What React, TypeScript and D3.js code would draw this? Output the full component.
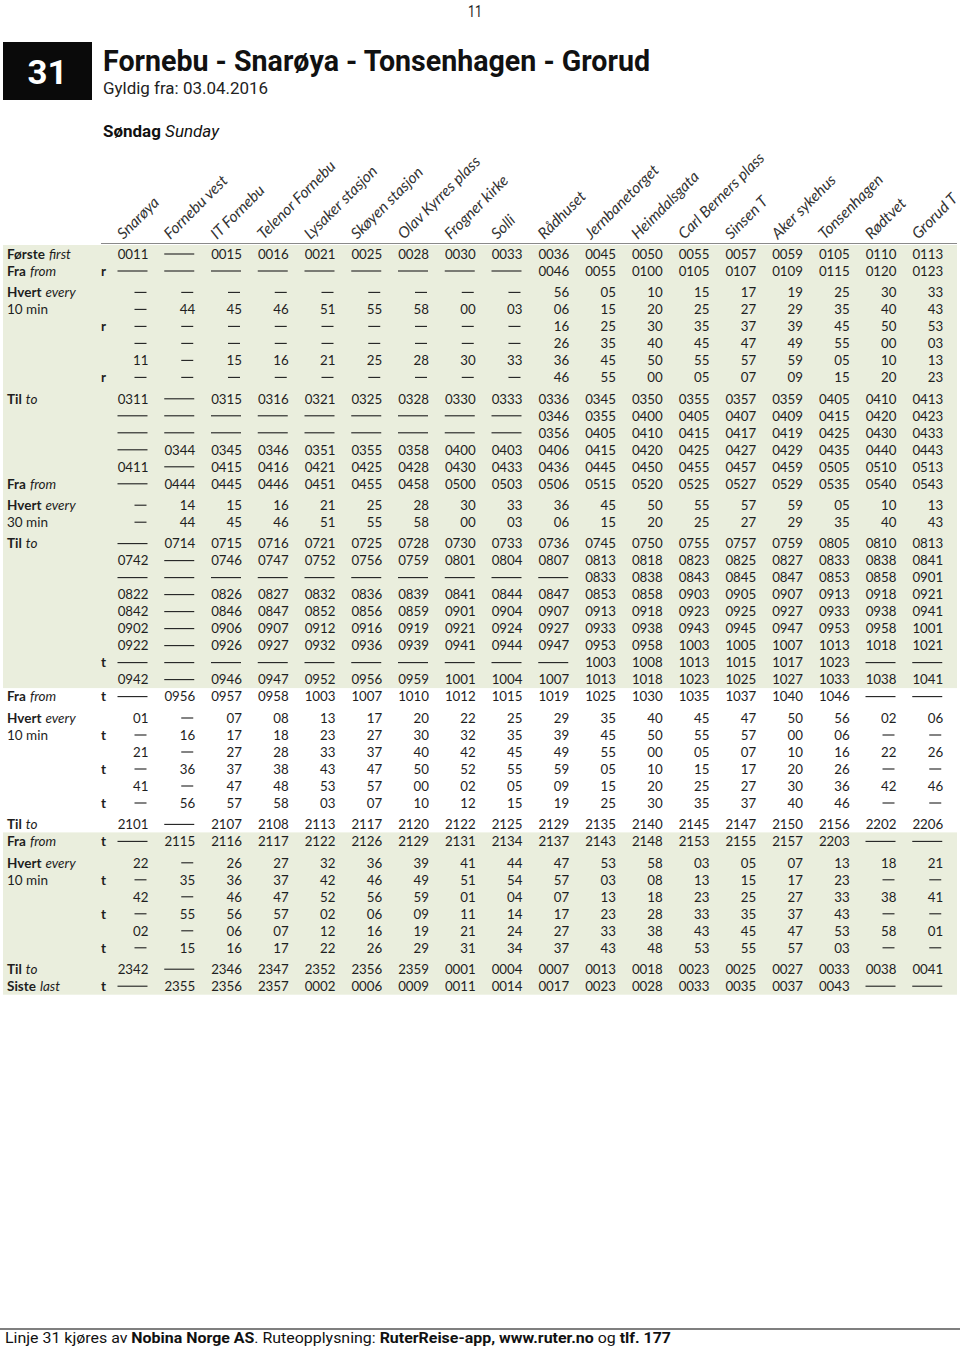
import React from "react";
import * as d3 from "d3";

const stops = [
  "Snarøya", "Fornebu vest", "IT Fornebu", "Telenor Fornebu", "Lysaker stasjon",
  "Skøyen stasjon", "Olav Kyrres plass", "Frogner kirke", "Solli", "Rådhuset",
  "Jernbanetorget", "Heimdalsgata", "Carl Berners plass", "Sinsen T", "Aker sykehus",
  "Tonsenhagen", "Rødtvet", "Grorud T",
];

type Row = { bold?: string; ital?: string; plain?: string; mark?: string; cells: string };

const firstRows: Row[] = [
  { bold: "Første", ital: "first", cells: "0011 —— 0015 0016 0021 0025 0028 0030 0033 0036 0045 0050 0055 0057 0059 0105 0110 0113" },
  { bold: "Fra", ital: "from", mark: "r", cells: "—— —— —— —— —— —— —— —— —— 0046 0055 0100 0105 0107 0109 0115 0120 0123" },
];

const every10aRows: Row[] = [
  { bold: "Hvert", ital: "every", cells: "— — — — — — — — — 56 05 10 15 17 19 25 30 33" },
  { plain: "10 min", cells: "— 44 45 46 51 55 58 00 03 06 15 20 25 27 29 35 40 43" },
  { mark: "r", cells: "— — — — — — — — — 16 25 30 35 37 39 45 50 53" },
  { cells: "— — — — — — — — — 26 35 40 45 47 49 55 00 03" },
  { cells: "11 — 15 16 21 25 28 30 33 36 45 50 55 57 59 05 10 13" },
  { mark: "r", cells: "— — — — — — — — — 46 55 00 05 07 09 15 20 23" },
];

const til1Rows: Row[] = [
  { bold: "Til", ital: "to", cells: "0311 —— 0315 0316 0321 0325 0328 0330 0333 0336 0345 0350 0355 0357 0359 0405 0410 0413" },
  { cells: "—— —— —— —— —— —— —— —— —— 0346 0355 0400 0405 0407 0409 0415 0420 0423" },
  { cells: "—— —— —— —— —— —— —— —— —— 0356 0405 0410 0415 0417 0419 0425 0430 0433" },
  { cells: "—— 0344 0345 0346 0351 0355 0358 0400 0403 0406 0415 0420 0425 0427 0429 0435 0440 0443" },
  { cells: "0411 —— 0415 0416 0421 0425 0428 0430 0433 0436 0445 0450 0455 0457 0459 0505 0510 0513" },
  { bold: "Fra", ital: "from", cells: "—— 0444 0445 0446 0451 0455 0458 0500 0503 0506 0515 0520 0525 0527 0529 0535 0540 0543" },
];

const every30Rows: Row[] = [
  { bold: "Hvert", ital: "every", cells: "— 14 15 16 21 25 28 30 33 36 45 50 55 57 59 05 10 13" },
  { plain: "30 min", cells: "— 44 45 46 51 55 58 00 03 06 15 20 25 27 29 35 40 43" },
];

const til2Rows: Row[] = [
  { bold: "Til", ital: "to", cells: "—— 0714 0715 0716 0721 0725 0728 0730 0733 0736 0745 0750 0755 0757 0759 0805 0810 0813" },
  { cells: "0742 —— 0746 0747 0752 0756 0759 0801 0804 0807 0813 0818 0823 0825 0827 0833 0838 0841" },
  { cells: "—— —— —— —— —— —— —— —— —— —— 0833 0838 0843 0845 0847 0853 0858 0901" },
  { cells: "0822 —— 0826 0827 0832 0836 0839 0841 0844 0847 0853 0858 0903 0905 0907 0913 0918 0921" },
  { cells: "0842 —— 0846 0847 0852 0856 0859 0901 0904 0907 0913 0918 0923 0925 0927 0933 0938 0941" },
  { cells: "0902 —— 0906 0907 0912 0916 0919 0921 0924 0927 0933 0938 0943 0945 0947 0953 0958 1001" },
  { cells: "0922 —— 0926 0927 0932 0936 0939 0941 0944 0947 0953 0958 1003 1005 1007 1013 1018 1021" },
  { mark: "t", cells: "—— —— —— —— —— —— —— —— —— —— 1003 1008 1013 1015 1017 1023 —— ——" },
  { cells: "0942 —— 0946 0947 0952 0956 0959 1001 1004 1007 1013 1018 1023 1025 1027 1033 1038 1041" },
  { bold: "Fra", ital: "from", mark: "t", cells: "—— 0956 0957 0958 1003 1007 1010 1012 1015 1019 1025 1030 1035 1037 1040 1046 —— ——" },
];

const every10bRows: Row[] = [
  { bold: "Hvert", ital: "every", cells: "01 — 07 08 13 17 20 22 25 29 35 40 45 47 50 56 02 06" },
  { plain: "10 min", mark: "t", cells: "— 16 17 18 23 27 30 32 35 39 45 50 55 57 00 06 — —" },
  { cells: "21 — 27 28 33 37 40 42 45 49 55 00 05 07 10 16 22 26" },
  { mark: "t", cells: "— 36 37 38 43 47 50 52 55 59 05 10 15 17 20 26 — —" },
  { cells: "41 — 47 48 53 57 00 02 05 09 15 20 25 27 30 36 42 46" },
  { mark: "t", cells: "— 56 57 58 03 07 10 12 15 19 25 30 35 37 40 46 — —" },
];

const til3Rows: Row[] = [
  { bold: "Til", ital: "to", cells: "2101 —— 2107 2108 2113 2117 2120 2122 2125 2129 2135 2140 2145 2147 2150 2156 2202 2206" },
  { bold: "Fra", ital: "from", mark: "t", cells: "—— 2115 2116 2117 2122 2126 2129 2131 2134 2137 2143 2148 2153 2155 2157 2203 —— ——" },
];

const every10cRows: Row[] = [
  { bold: "Hvert", ital: "every", cells: "22 — 26 27 32 36 39 41 44 47 53 58 03 05 07 13 18 21" },
  { plain: "10 min", mark: "t", cells: "— 35 36 37 42 46 49 51 54 57 03 08 13 15 17 23 — —" },
  { cells: "42 — 46 47 52 56 59 01 04 07 13 18 23 25 27 33 38 41" },
  { mark: "t", cells: "— 55 56 57 02 06 09 11 14 17 23 28 33 35 37 43 — —" },
  { cells: "02 — 06 07 12 16 19 21 24 27 33 38 43 45 47 53 58 01" },
  { mark: "t", cells: "— 15 16 17 22 26 29 31 34 37 43 48 53 55 57 03 — —" },
];

const lastRows: Row[] = [
  { bold: "Til", ital: "to", cells: "2342 —— 2346 2347 2352 2356 2359 0001 0004 0007 0013 0018 0023 0025 0027 0033 0038 0041" },
  { bold: "Siste", ital: "last", mark: "t", cells: "—— 2355 2356 2357 0002 0006 0009 0011 0014 0017 0023 0028 0033 0035 0037 0043 —— ——" },
];

const groups: Row[][] = [
  firstRows, every10aRows, til1Rows, every30Rows, til2Rows,
  every10bRows, til3Rows, every10cRows, lastRows,
];

const shadedRowRanges: [number, number][] = [[0, 24], [33, 41]];

const FONT = "Lato, 'Open Sans', sans-serif";
const COND = "Roboto, 'Liberation Sans', sans-serif";
const INK = "#1e1e1e";

export default function App() {
  const W = 960, H = 1351;
  const x = d3.scaleBand<string>().domain(stops).range([101.75, 943.25]).paddingInner(0).paddingOuter(0);
  const rightEdge = (i: number) => (x(stops[i]) as number) + x.bandwidth();

  const flat: { row: Row; g: number; i: number }[] = [];
  groups.forEach((rows, g) => rows.forEach((row) => flat.push({ row, g, i: flat.length })));
  const rowStep = 17, groupGap = 4.4, y0 = 254;
  const yScale = d3.scaleLinear().domain([0, 1]).range([y0, y0 + rowStep]);
  const yOf = (i: number, g: number) => yScale(i) + g * groupGap;

  const shade = shadedRowRanges.map(([a, b]) => {
    const fa = flat[a], fb = flat[b];
    return { y1: yOf(fa.i, fa.g) - 9, y2: yOf(fb.i, fb.g) + 8.5 };
  });

  return (
    <svg width={W} height={H} viewBox={`0 0 ${W} ${H}`}
      style={{ position: "absolute", left: 0, top: 0, background: "#fff" }}>
      <text x={475} y={17} textAnchor="middle" fontFamily={COND} fontSize={17} fill="#222" textLength={14} lengthAdjust="spacingAndGlyphs">11</text>

      <rect x={3} y={42} width={89} height={58} fill="#0a0a0a" />
      <text x={47.5} y={84} textAnchor="middle" fontFamily={COND} fontWeight={700} fontSize={34} fill="#fff" textLength={40} lengthAdjust="spacingAndGlyphs">31</text>

      <text x={103} y={71} fontFamily={COND} fontWeight={700} fontSize={29} fill="#111" textLength={547} lengthAdjust="spacingAndGlyphs">Fornebu - Snarøya - Tonsenhagen - Grorud</text>
      <text x={103} y={94} fontFamily={COND} fontSize={17} fill="#222" textLength={165} lengthAdjust="spacingAndGlyphs">Gyldig fra: 03.04.2016</text>

      <text x={103} y={137} fontFamily={COND} fontSize={16} fill="#111" textLength={116} lengthAdjust="spacingAndGlyphs">
        <tspan fontWeight={700}>Søndag</tspan>
        <tspan fontStyle="italic" dx={4}>Sunday</tspan>
      </text>

      {shade.map((s, k) => (
        <rect key={k} x={3} y={s.y1} width={954} height={s.y2 - s.y1} fill="#eaeedd" />
      ))}

      <line x1={101} x2={957} y1={243.5} y2={243.5} stroke="#8a8a8a" strokeWidth={1} />

      {stops.map((s, i) => {
        const cx = rightEdge(i) - 15;
        return (
          <text key={s} transform={`translate(${cx - 10},${240}) rotate(-45)`}
            fontFamily={FONT} fontStyle="italic" fontSize={15.5} fill="#333">{s}</text>
        );
      })}

      {flat.map(({ row, g, i }) => {
        const yc = yOf(i, g);
        const base = yc + 4.7;
        const cells = row.cells.split(" ");
        return (
          <g key={i}>
            {(row.bold || row.plain) && (
              <text x={7} y={base} fontFamily={FONT} fontSize={13.5} fill={INK}>
                {row.bold && <tspan fontWeight={700}>{row.bold}</tspan>}
                {row.ital && <tspan fontStyle="italic" dx={4}>{row.ital}</tspan>}
                {row.plain && <tspan>{row.plain}</tspan>}
              </text>
            )}
            {row.mark && (
              <text x={101} y={base} fontFamily={FONT} fontWeight={700} fontSize={13.5} fill={INK}>{row.mark}</text>
            )}
            {cells.map((c, j) => {
              const r = rightEdge(j);
              if (c === "——") {
                return <line key={j} x1={r - 31} x2={r - 1} y1={yc} y2={yc} stroke={INK} strokeWidth={1.1} />;
              }
              if (c === "—") {
                return <line key={j} x1={r - 14} x2={r - 2} y1={yc} y2={yc} stroke={INK} strokeWidth={1.1} />;
              }
              return (
                <text key={j} x={r} y={base} textAnchor="end" fontFamily={FONT} fontSize={13.3} fill={INK}>{c}</text>
              );
            })}
          </g>
        );
      })}

      <line x1={0} x2={960} y1={1329} y2={1329} stroke="#555" strokeWidth={1.5} />
      <text x={5} y={1343} fontFamily={COND} fontSize={14.5} fill="#111" textLength={666} lengthAdjust="spacingAndGlyphs">
        <tspan>Linje 31 kjøres av </tspan>
        <tspan fontWeight={700}>Nobina Norge AS</tspan>
        <tspan>. Ruteopplysning: </tspan>
        <tspan fontWeight={700}>RuterReise-app, www.ruter.no</tspan>
        <tspan> og </tspan>
        <tspan fontWeight={700}>tlf. 177</tspan>
      </text>
    </svg>
  );
}
